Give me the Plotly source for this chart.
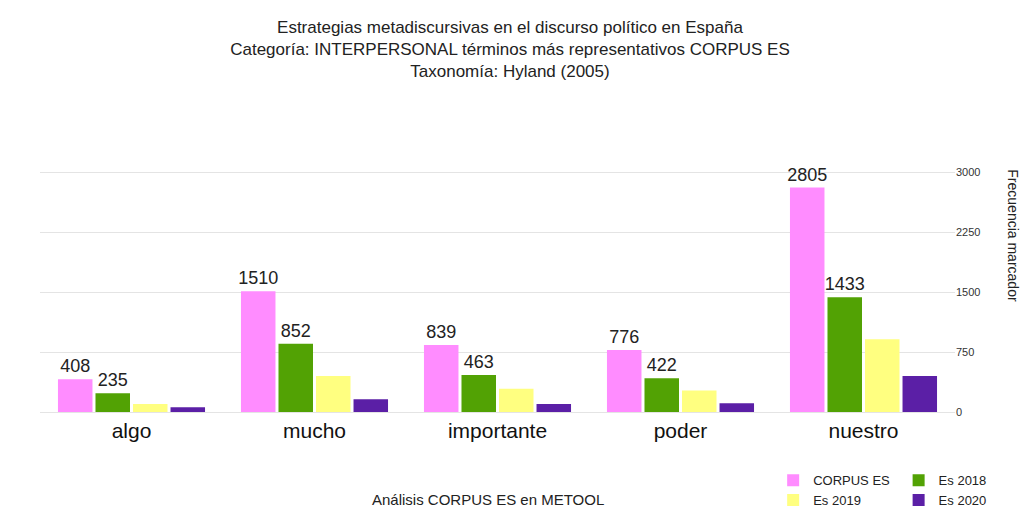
import plotly.graph_objects as go

# terminos del corpus
terminos = ["algo", "mucho", "importante", "poder", "nuestro"]

# frecuencias por serie (2019 y 2020 estimadas a partir del grafico)
corpus_es = [408, 1510, 839, 776, 2805]
es_2018 = [235, 852, 463, 422, 1433]
es_2019 = [100, 450, 290, 270, 910]
es_2020 = [60, 160, 100, 110, 450]

ticks_y = [0, 750, 1500, 2250, 3000]

fuente = "Liberation Sans, Arial, sans-serif"

fig = go.Figure()

fig.add_trace(go.Bar(x=terminos, y=corpus_es, name="CORPUS ES", marker_color="#FF8CFF",
                     text=corpus_es, textposition="outside", legend="legend"))
fig.add_trace(go.Bar(x=terminos, y=es_2018, name="Es 2018", marker_color="#52A204",
                     text=es_2018, textposition="outside", legend="legend2"))
fig.add_trace(go.Bar(x=terminos, y=es_2019, name="Es 2019", marker_color="#FFFF80",
                     legend="legend"))
fig.add_trace(go.Bar(x=terminos, y=es_2020, name="Es 2020", marker_color="#5B1FA6",
                     legend="legend2"))

fig.update_traces(marker_line_width=0, cliponaxis=False, constraintext="none",
                  textfont=dict(size=18, color="#222222", family=fuente))

fig.update_layout(
    width=1020, height=509,
    margin=dict(l=40, r=65, t=152, b=93, autoexpand=False),
    paper_bgcolor="white", plot_bgcolor="white",
    font=dict(family=fuente, color="#222222"),
    barmode="group", bargap=0.18, bargroupgap=0.08,
    title=dict(
        text="Estrategias metadiscursivas en el discurso político en España<br>"
             "Categoría: INTERPERSONAL términos más representativos CORPUS ES<br>"
             "Taxonomía: Hyland (2005)",
        x=0.5, xanchor="center", y=0.935, yanchor="top",
        font=dict(size=17, family=fuente)),
    xaxis=dict(tickfont=dict(size=21, color="#111111"), showline=False, ticks=""),
    yaxis=dict(side="right", range=[-50, 3250], tickvals=ticks_y,
               tickfont=dict(size=11, color="#333333"),
               showgrid=True, gridcolor="#e4e4e4", zeroline=False, ticks=""),
    legend=dict(xref="container", yref="container", x=0.758, y=0.086,
                xanchor="left", yanchor="top",
                font=dict(size=13), tracegroupgap=0, itemwidth=30),
    legend2=dict(xref="container", yref="container", x=0.881, y=0.086,
                 xanchor="left", yanchor="top",
                 font=dict(size=13), tracegroupgap=0, itemwidth=30),
    showlegend=True,
)

fig.add_annotation(text="Análisis CORPUS ES en METOOL", xref="paper", yref="paper",
                   x=0.49, y=-0.318, xanchor="center", yanchor="middle",
                   showarrow=False, font=dict(size=15))
fig.add_annotation(text="Frecuencia marcador", xref="paper", yref="paper",
                   x=1.063, y=0.682, xanchor="center", yanchor="middle",
                   textangle=90, showarrow=False, font=dict(size=14))

# sin margen del body para que la figura ocupe toda la ventana
fig.write_html("out.html", config={"displayModeBar": False},
               post_script="document.body.style.margin='0px';")
